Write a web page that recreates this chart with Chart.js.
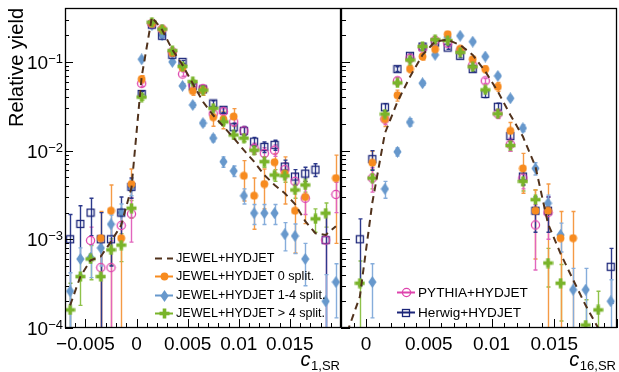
<!DOCTYPE html>
<html>
<head>
<meta charset="utf-8">
<script src="https://cdn.jsdelivr.net/npm/chart.js@4.4.1/dist/chart.umd.min.js"></script>
<style>
  html, body { margin: 0; padding: 0; background: #fff; }
  #wrap { position: relative; width: 619px; height: 372px; overflow: hidden; background: #fff; }
  #wrap canvas { position: absolute; top: 0; }
  #cl { left: 0; }
  #cr { left: 341px; }
</style>
</head>
<body>
<div id="wrap">
  <canvas id="cl" width="342" height="372"></canvas>
  <canvas id="cr" width="277" height="372"></canvas>
</div>
<script>
// ---- bin centres ----
const binsC1 = [-0.0065, -0.0055, -0.0045, -0.0035, -0.0025, -0.0015, -0.0005, 0.0005, 0.0015, 0.0025,
  0.0035, 0.0045, 0.0055, 0.0065, 0.0075, 0.0085, 0.0095, 0.0105, 0.0115, 0.0125,
  0.0135, 0.0145, 0.0155, 0.0165, 0.0175, 0.0185, 0.0195];
const binsC16 = [-0.0015, -0.0005, 0.0005, 0.0015, 0.0025, 0.0035, 0.0045, 0.0055, 0.0065, 0.0075,
  0.0085, 0.0095, 0.0105, 0.0115, 0.0125, 0.0135, 0.0145, 0.0155, 0.0165, 0.0175,
  0.0185, 0.0195];

// ---- c_{1,SR} ----
const jewelC1 = [1.8e-4, 3.8e-4, 5.8e-4, 6.4e-4, 9.4e-4, 1.45e-3, 3.8e-3, 0.068, 0.32, 0.23,
  0.137, 0.092, 0.057, 0.0355, 0.025, 0.0187, 0.0139, 0.0101, 0.0075, 0.0053,
  0.0041, 0.0033, 0.0025, 0.0016, 0.00117, 0.00112, 0.0014];
const split0C1 = [null, null, null, 1.03e-3, 2.1e-3, 1.03e-3, 4.2e-3, 0.064, 0.27, 0.234,
  0.126, 0.086, 0.047, 0.048, 0.0238, 0.0226, 0.0242, 0.0052, 0.0031, 0.0042,
  0.0074, 0.0055, 0.0021, 0.003, null, null, 0.0049];
const split0C1Err = [null, null, null, 1.03e-3, 2.0e-3, 1.0e-3, 2.0e-3, 0.006, 0.012, 0.01,
  0.008, 0.006, 0.005, 0.006, 0.005, 0.005, 0.0055, 0.0025, 0.0018, 0.002,
  0.0018, 0.003, 0.0014, 0.0015, null, null, 0.004];
const split14C1 = [2.6e-4, 6e-4, 6.2e-4, 8e-4, 1.48e-3, 2e-3, 3.9e-3, 0.107, 0.26, 0.2,
  0.1, 0.0536, 0.0327, 0.0204, 0.0138, 0.0075, 0.0059, 0.0031, 0.00197, 0.00197,
  0.00197, 0.00114, 0.00109, 6e-4, null, 2e-4, 3.3e-4];
const split14C1Err = [1.6e-4, 2e-4, 2.5e-4, 3e-4, 4e-4, 5e-4, 8e-4, 0.004, 0.008, 0.006,
  0.004, 0.003, 0.002, 0.0015, 0.0012, 0.001, 0.0008, 0.0006, 0.0005, 0.0005,
  0.0005, 0.0004, 0.0004, 0.0003, null, 2e-4, 2e-4];
const split5C1 = [1.6e-4, 3.8e-4, 6e-4, 3.8e-4, 7.6e-4, 8.6e-4, 2.24e-3, 0.0401, 0.28, 0.234,
  0.134, 0.089, 0.06, 0.048, 0.03, 0.0211, 0.015, 0.0138, 0.0101, 0.0075,
  0.0053, 0.0052, 0.0036, 0.0041, 0.0017, 0.00197, null];
const split5C1Err = [1.6e-4, 2e-4, 2.5e-4, 3.8e-4, 2.5e-4, 3e-4, 5e-4, 0.003, 0.008, 0.006,
  0.004, 0.003, 0.002, 0.002, 0.0015, 0.0015, 0.0015, 0.0012, 0.001, 0.001,
  0.0008, 0.0008, 0.0007, 0.0007, 0.0005, 0.0006, null];
const pythiaC1 = [null, null, 9.7e-4, 4.8e-4, 4.8e-4, 1.43e-3, 1.93e-3, 0.057, 0.27, 0.234,
  0.13, 0.073, 0.055, 0.05, 0.026, 0.0275, 0.0211, 0.0167, 0.0106, 0.0093,
  0.0101, 0.0061, 0.0045, 0.0029, null, 9.8e-4, 0.0032];
const pythiaC1Err = [null, null, 4e-4, 4.8e-4, 4.8e-4, 5e-4, 1e-3, 0.004, 0.01, 0.008,
  0.006, 0.004, 0.003, 0.003, 0.002, 0.002, 0.002, 0.0018, 0.0015, 0.0015,
  0.0015, 0.0012, 0.001, 0.001, null, 9.8e-4, 0.0012];
const herwigC1 = [1e-3, 1.49e-3, 2e-3, 1e-3, 1e-3, 2e-3, 3.9e-3, 0.0435, 0.263, 0.197,
  0.12, 0.1, 0.053, 0.049, 0.034, 0.0288, 0.0183, 0.0167, 0.0126, 0.011,
  0.0116, 0.0066, 0.0051, 0.0055, 0.0061, 9.8e-4, null];
const herwigC1Err = [9e-4, 9e-4, 9e-4, 1e-3, 5e-4, 1e-3, 1e-3, 0.003, 0.008, 0.007,
  0.005, 0.004, 0.003, 0.003, 0.0025, 0.002, 0.002, 0.002, 0.0015, 0.0015,
  0.0015, 0.0012, 0.001, 0.001, 0.001, 9.8e-4, null];

// ---- c_{16,SR} ----
const jewelC16 = [9e-5, 2.25e-4, 0.0026, 0.0157, 0.0355, 0.068, 0.12, 0.17, 0.178, 0.155,
  0.12, 0.078, 0.0464, 0.0252, 0.0144, 0.0066, 0.0015, 6.9e-4, 3.5e-4, 1.8e-4,
  1.0e-4, 6e-5];
const split0C16 = [null, null, 0.0073, 0.0227, 0.0421, 0.0834, 0.115, 0.139, 0.205, 0.14,
  0.107, 0.083, 0.0525, 0.0167, 0.0063, 0.0021, 0.0021, 0.00103, 0.00103, null,
  null, null];
const split0C16Err = [null, null, 0.0025, 0.004, 0.006, 0.008, 0.01, 0.01, 0.012, 0.01,
  0.008, 0.007, 0.006, 0.004, 0.003, 0.0015, 0.0021, 0.00103, 0.00103, null,
  null, null];
const split14C16 = [null, null, 3.3e-4, 0.0037, 0.0097, 0.0209, 0.0575, 0.12, 0.19, 0.197,
  0.169, 0.115, 0.0695, 0.0389, 0.0179, 0.0063, 0.00255, 0.00112, 2.7e-4, 2.7e-4,
  null, 2e-4];
const split14C16Err = [null, null, 2e-4, 8e-4, 0.001, 0.002, 0.003, 0.004, 0.005, 0.005,
  0.005, 0.004, 0.003, 0.002, 0.0015, 0.001, 0.0006, 4e-4, 2e-4, 2e-4,
  null, 1.5e-4];
const split5C16 = [null, 3.2e-4, 0.0049, 0.0258, 0.058, 0.105, 0.149, 0.178, 0.174, 0.128,
  0.088, 0.0484, 0.026, 0.0114, 0.0045, 0.0028, 5.4e-4, 3.2e-4, null, 1.08e-4,
  1.6e-4, null];
const split5C16Err = [null, 2.5e-4, 0.0012, 0.002, 0.003, 0.004, 0.005, 0.005, 0.005, 0.004,
  0.004, 0.003, 0.002, 0.0015, 0.001, 0.0008, 2.5e-4, 2e-4, null, 1e-4,
  1e-4, null];
const pythiaC16 = [null, null, 0.0049, 0.0227, 0.0612, 0.11, 0.143, 0.174, 0.162, 0.134,
  0.092, 0.061, 0.026, 0.0118, 0.0049, 0.00145, 0.002, null, null, null,
  null, null];
const pythiaC16Err = [null, null, 0.0015, 0.003, 0.005, 0.006, 0.006, 0.006, 0.006, 0.006,
  0.005, 0.004, 0.003, 0.002, 0.0012, 0.001, 0.001, null, null, null,
  null, null];
const herwigC16 = [null, 0.001, 0.008, 0.0308, 0.083, 0.117, 0.149, 0.165, 0.145, 0.117,
  0.083, 0.0435, 0.0312, 0.0146, 0.0051, 0.0021, 0.0021, null, null, null,
  null, 4.9e-4];
const herwigC16Err = [null, 7e-4, 0.002, 0.003, 0.005, 0.006, 0.006, 0.006, 0.006, 0.006,
  0.005, 0.004, 0.003, 0.002, 0.001, 0.0009, 0.0009, null, null, null,
  null, 3e-4];

// ---- axis ticks ----
const ticksC1 = [-0.005, 0, 0.005, 0.01, 0.015];
const ticksC16 = [0, 0.005, 0.01, 0.015];
const tickLabelsC1 = ['\u22120.005', '0', '0.005', '0.01', '0.015'];
const tickLabelsC16 = ['0', '0.005', '0.01', '0.015'];
const yDecades = [1e-4, 1e-3, 1e-2, 1e-1];
const yExponents = ['\u22124', '\u22123', '\u22122', '\u22121'];

// ---- styles ----
const C = {
  jewel: '#51321c',
  orange: '#f78b1f', orangeBar: '#f59a45',
  blue: '#6798cc', blueBar: '#86addb',
  green: '#79b42a', greenBar: '#8fc24a',
  pink: '#de43ad', pinkBar: '#e266bd',
  navy: '#1b2579', navyBar: '#2d3a8c'
};
const FONT = '"Liberation Sans", Arial, Helvetica, sans-serif';

function markerCanvas(w, h, draw) {
  const c = document.createElement('canvas');
  c.width = w; c.height = h;
  draw(c.getContext('2d'), w, h);
  return c;
}
const mkOrange = markerCanvas(9, 9, g => {
  g.fillStyle = C.orange; g.beginPath(); g.arc(4.5, 4.5, 3.9, 0, Math.PI * 2); g.fill();
});
const mkDiamond = markerCanvas(9, 12, g => {
  g.fillStyle = C.blue; g.beginPath();
  g.moveTo(4.5, 0); g.lineTo(8.6, 6); g.lineTo(4.5, 12); g.lineTo(0.4, 6); g.closePath(); g.fill();
});
const mkCross = markerCanvas(11, 11, g => {
  g.fillStyle = C.green; g.fillRect(3.7, 0.5, 3.6, 10); g.fillRect(0.5, 3.7, 10, 3.6);
});
const mkOpenCircle = markerCanvas(11, 11, g => {
  g.strokeStyle = C.pink; g.lineWidth = 1.3; g.beginPath(); g.arc(5.5, 5.5, 4.1, 0, Math.PI * 2); g.stroke();
});
const mkOpenSquare = markerCanvas(10, 10, g => {
  g.strokeStyle = C.navy; g.lineWidth = 1.3; g.strokeRect(1.5, 1.5, 7, 7);
});

function points(bins, vals, errs) {
  const out = [];
  bins.forEach((b, i) => {
    if (vals[i] == null) return;
    out.push({ x: b, y: vals[i], err: errs ? errs[i] : null });
  });
  return out;
}

function markerSet(label, bins, vals, errs, marker, barColor) {
  return {
    label, data: points(bins, vals, errs), showLine: false,
    pointStyle: marker, pointRadius: 5, pointHoverRadius: 5,
    borderColor: barColor, backgroundColor: barColor, errColor: barColor, clip: 0
  };
}
function jewelSet(bins, vals) {
  return {
    label: 'JEWEL+HYDJET', data: points(bins, vals, null), showLine: true,
    borderColor: C.jewel, borderWidth: 2, borderDash: [7, 5], pointRadius: 0,
    tension: 0, fill: false, clip: 0
  };
}

// vertical error bars with end caps, under the markers
const errorBars = {
  id: 'errorBars',
  beforeDatasetsDraw(chart) {
    const { ctx, chartArea: a, scales: { x, y } } = chart;
    ctx.save();
    ctx.beginPath(); ctx.rect(a.left, a.top, a.right - a.left, a.bottom - a.top); ctx.clip();
    chart.data.datasets.forEach(ds => {
      if (!ds.errColor) return;
      ctx.strokeStyle = ds.errColor; ctx.lineWidth = 1.4;
      ds.data.forEach(p => {
        if (!p.err) return;
        const px = Math.round(x.getPixelForValue(p.x)) + 0.5;
        const yt = y.getPixelForValue(p.y + p.err);
        const lo = p.y - p.err;
        const yb = lo > 1e-6 ? y.getPixelForValue(lo) : a.bottom + 10;
        ctx.beginPath();
        ctx.moveTo(px, yt); ctx.lineTo(px, yb);
        ctx.moveTo(px - 2, yt); ctx.lineTo(px + 2, yt);
        ctx.moveTo(px - 2, yb); ctx.lineTo(px + 2, yb);
        ctx.stroke();
      });
    });
    ctx.restore();
  }
};

// frame, inward tick marks and x tick labels
function axesDraw(opts) {
  return {
    id: 'axesDraw',
    afterDraw(chart) {
      const { ctx, chartArea: a, scales: { x, y } } = chart;
      ctx.save();
      ctx.strokeStyle = '#000'; ctx.lineWidth = 1;
      ctx.beginPath();
      for (let e = -4; e <= -1; e++) {
        for (let k = 1; k <= 9; k++) {
          const v = k * Math.pow(10, e);
          if (v > y.max) continue;
          const py = Math.round(y.getPixelForValue(v)) + 0.5;
          const len = k === 1 ? opts.yMajor : opts.yMinor;
          ctx.moveTo(a.left, py); ctx.lineTo(a.left + len, py);
        }
      }
      const step = 0.001;
      const start = Math.ceil(x.min / step - 1e-9);
      for (let n = start; n * step <= x.max + 1e-12; n++) {
        const px = Math.round(x.getPixelForValue(n * step)) + 0.5;
        const len = (n % 5 === 0) ? opts.xMajor : opts.xMinor;
        ctx.moveTo(px, a.bottom); ctx.lineTo(px, a.bottom - len);
      }
      ctx.stroke();
      ctx.lineWidth = 1.3;
      ctx.strokeRect(a.left + 0.5, a.top + 0.5, a.right - a.left - 1, a.bottom - a.top - 1);

      ctx.fillStyle = '#000';
      ctx.font = '19px ' + FONT;
      ctx.textAlign = 'center';
      ctx.textBaseline = 'alphabetic';
      opts.ticks.forEach((v, i) => {
        ctx.fillText(opts.labels[i], x.getPixelForValue(v), 350);
      });
      ctx.restore();
    }
  };
}

// decade labels 10^n on the left axis
const yLabels = {
  id: 'yLabels',
  afterDraw(chart) {
    const { ctx, chartArea: a, scales: { y } } = chart;
    ctx.save();
    ctx.fillStyle = '#000';
    ctx.textBaseline = 'alphabetic';
    yDecades.forEach((v, i) => {
      const py = y.getPixelForValue(v);
      const right = a.left - 2;
      ctx.font = '13px ' + FONT;
      ctx.textAlign = 'right';
      ctx.fillText(yExponents[i], right, py + 1);
      const ew = ctx.measureText(yExponents[i]).width;
      ctx.font = '19px ' + FONT;
      ctx.fillText('10', right - ew, py + 7);
    });
    ctx.font = '20px ' + FONT;
    ctx.translate(17, a.top);
    ctx.rotate(-Math.PI / 2);
    ctx.textAlign = 'right';
    ctx.textBaseline = 'middle';
    ctx.fillText('Relative yield', 0, 0);
    ctx.restore();
  }
};

function xTitle(sub) {
  return {
    id: 'xTitle',
    afterDraw(chart) {
      const { ctx, chartArea: a } = chart;
      ctx.save();
      ctx.fillStyle = '#000';
      ctx.textBaseline = 'alphabetic';
      ctx.textAlign = 'right';
      ctx.font = '13px ' + FONT;
      const right = a.right - 1;
      ctx.fillText(sub, right, 370);
      const sw = ctx.measureText(sub).width;
      ctx.font = 'italic 20px ' + FONT;
      ctx.fillText('c', right - sw - 0.5, 366);
      ctx.restore();
    }
  };
}

function legendBox(entries, x0, y0, dy, fontPx) {
  return {
    id: 'legendBox',
    afterDraw(chart) {
      const { ctx } = chart;
      ctx.save();
      entries.forEach((en, i) => {
        const yy = Math.round(y0 + i * dy) + 0.5;
        ctx.strokeStyle = en.color;
        ctx.lineWidth = 2;
        ctx.setLineDash(en.dash || []);
        ctx.beginPath(); ctx.moveTo(x0, yy); ctx.lineTo(x0 + 18, yy); ctx.stroke();
        ctx.setLineDash([]);
        if (en.marker) {
          ctx.drawImage(en.marker, Math.round(x0 + 9 - en.marker.width / 2), Math.round(yy - en.marker.height / 2));
        }
        ctx.fillStyle = '#000';
        ctx.font = fontPx + 'px ' + FONT;
        ctx.textAlign = 'left';
        ctx.textBaseline = 'middle';
        ctx.fillText(en.text, x0 + 21, yy + 0.5);
      });
      ctx.restore();
    }
  };
}

function buildChart(el, cfg) {
  return new Chart(el, {
    type: 'scatter',
    data: { datasets: cfg.datasets },
    options: {
      responsive: false, animation: false, devicePixelRatio: 1,
      layout: { autoPadding: false, padding: { left: cfg.padLeft, right: cfg.padRight, top: 8, bottom: 44 } },
      plugins: { legend: { display: false }, tooltip: { enabled: false } },
      scales: {
        x: { type: 'linear', min: cfg.xMin, max: cfg.xMax, display: false },
        y: { type: 'logarithmic', min: 1e-4, max: 0.405, display: false }
      }
    },
    plugins: cfg.plugins
  });
}

const leftSets = [
  jewelSet(binsC1, jewelC1),
  markerSet('JEWEL+HYDJET > 4 split.', binsC1, split5C1, split5C1Err, mkCross, C.greenBar),
  markerSet('JEWEL+HYDJET 0 split.', binsC1, split0C1, split0C1Err, mkOrange, C.orangeBar),
  markerSet('PYTHIA+HYDJET', binsC1, pythiaC1, pythiaC1Err, mkOpenCircle, C.pinkBar),
  markerSet('Herwig+HYDJET', binsC1, herwigC1, herwigC1Err, mkOpenSquare, C.navyBar),
  markerSet('JEWEL+HYDJET 1-4 split.', binsC1, split14C1, split14C1Err, mkDiamond, C.blueBar)
];
const rightSets = [
  jewelSet(binsC16, jewelC16),
  markerSet('JEWEL+HYDJET > 4 split.', binsC16, split5C16, split5C16Err, mkCross, C.greenBar),
  markerSet('JEWEL+HYDJET 0 split.', binsC16, split0C16, split0C16Err, mkOrange, C.orangeBar),
  markerSet('PYTHIA+HYDJET', binsC16, pythiaC16, pythiaC16Err, mkOpenCircle, C.pinkBar),
  markerSet('Herwig+HYDJET', binsC16, herwigC16, herwigC16Err, mkOpenSquare, C.navyBar),
  markerSet('JEWEL+HYDJET 1-4 split.', binsC16, split14C16, split14C16Err, mkDiamond, C.blueBar)
];

buildChart(document.getElementById('cl'), {
  datasets: leftSets, padLeft: 65, padRight: 1, xMin: -0.007, xMax: 0.02,
  plugins: [errorBars,
    axesDraw({ yMajor: 8, yMinor: 4, xMajor: 9, xMinor: 5, ticks: ticksC1, labels: tickLabelsC1 }),
    yLabels, xTitle('1,SR'),
    legendBox([
      { text: 'JEWEL+HYDJET', color: C.jewel, dash: [7, 5] },
      { text: 'JEWEL+HYDJET 0 split.', color: C.orange, marker: mkOrange },
      { text: 'JEWEL+HYDJET 1-4 split.', color: C.blue, marker: mkDiamond },
      { text: 'JEWEL+HYDJET > 4 split.', color: C.green, marker: mkCross }
    ], 155, 258, 18.4, 12.6)]
});

buildChart(document.getElementById('cr'), {
  datasets: rightSets, padLeft: 0, padRight: 1, xMin: -0.002, xMax: 0.02,
  plugins: [errorBars,
    axesDraw({ yMajor: 9, yMinor: 5, xMajor: 9, xMinor: 5, ticks: ticksC16, labels: tickLabelsC16 }),
    xTitle('16,SR'),
    legendBox([
      { text: 'PYTHIA+HYDJET', color: C.pink, marker: mkOpenCircle },
      { text: 'Herwig+HYDJET', color: C.navy, marker: mkOpenSquare }
    ], 56, 292, 20, 13.6)]
});
</script>
</body>
</html>
